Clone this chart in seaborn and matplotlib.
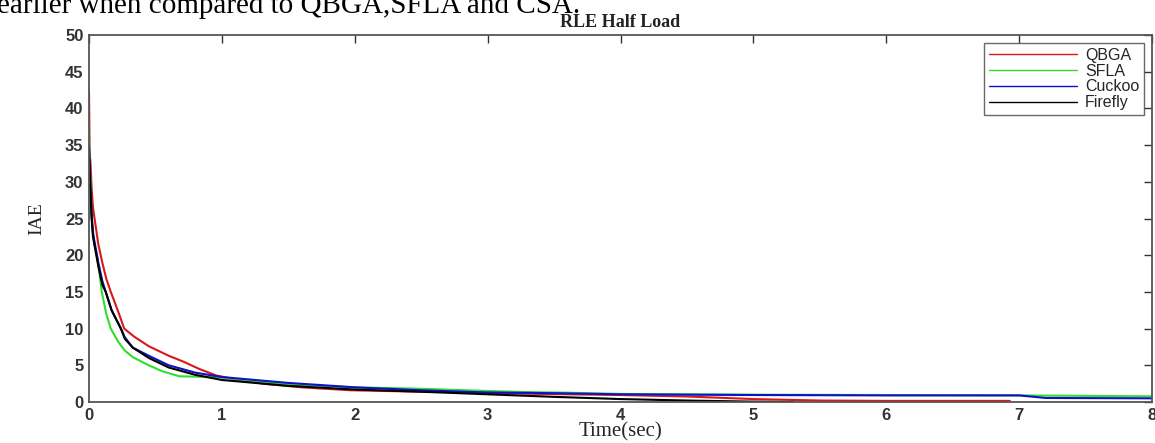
import numpy as np
import pandas as pd
import matplotlib
matplotlib.use("Agg")
import matplotlib.pyplot as plt
import seaborn as sns

# ---- data ----
qbga_t = [0, 0.005, 0.01, 0.02, 0.03, 0.05, 0.07, 0.1, 0.13, 0.164, 0.22, 0.265, 0.34, 0.45, 0.6,
          0.71, 0.83, 0.96, 1.1, 1.31, 1.6, 1.97, 2.5, 2.73, 3.0, 3.4, 4.0, 4.5, 5.0, 5.5, 6.0, 6.5, 6.93]
qbga_v = [42.3, 33.0, 33.0, 29.0, 26.5, 24.0, 21.5, 19.0, 16.8, 15.0, 12.3, 10.0, 8.9, 7.6, 6.3,
          5.5, 4.5, 3.6, 3.1, 2.5, 2.0, 1.6, 1.4, 1.36, 1.25, 1.1, 0.95, 0.75, 0.4, 0.2, 0.15, 0.15, 0.15]

sfla_t = [0, 0.005, 0.01, 0.02, 0.04, 0.06, 0.076, 0.096, 0.13, 0.164, 0.22, 0.27, 0.33, 0.45, 0.55,
          0.68, 0.96, 1.5, 2.0, 2.5, 3.0, 3.3, 3.6, 4.0, 5.0, 6.0, 7.0, 8.0]
sfla_v = [37.2, 30.5, 30.5, 25.0, 21.5, 20.0, 18.0, 15.0, 12.0, 10.0, 8.2, 7.0, 6.1, 5.0, 4.2,
          3.5, 3.4, 2.4, 2.0, 1.8, 1.5, 1.35, 1.27, 1.1, 1.0, 0.95, 0.9, 0.77]

cuckoo_t = [0, 0.01, 0.02, 0.03, 0.05, 0.07, 0.1, 0.126, 0.17, 0.24, 0.27, 0.33, 0.45, 0.6,
            0.8, 1.0, 1.5, 2.0, 2.5, 3.0, 3.5, 4.0, 5.0, 6.0, 7.0, 7.2, 8.0]
cuckoo_v = [35.0, 29.0, 25.5, 23.0, 21.0, 19.0, 16.5, 15.0, 12.5, 10.0, 8.8, 7.4, 6.3, 5.0,
            4.0, 3.4, 2.6, 2.0, 1.6, 1.3, 1.2, 1.05, 0.95, 0.9, 0.9, 0.55, 0.5]

firefly_t = [0, 0.01, 0.02, 0.03, 0.05, 0.07, 0.1, 0.126, 0.17, 0.24, 0.27, 0.33, 0.45, 0.6,
             0.8, 1.0, 1.5, 2.0, 2.5, 3.0, 3.5, 4.0, 4.5, 5.0, 5.3]
firefly_v = [34.5, 29.5, 25.0, 22.5, 20.5, 18.5, 16.0, 15.0, 12.5, 10.0, 8.6, 7.4, 6.0, 4.7,
             3.7, 3.0, 2.2, 1.7, 1.4, 1.05, 0.7, 0.4, 0.2, 0.05, 0.0]

series_names = ["QBGA", "SFLA", "Cuckoo", "Firefly"]
series_colors = ["#d81818", "#30dd30", "#1010cc", "#000000"]
x_ticks = [0, 1, 2, 3, 4, 5, 6, 7, 8]
y_ticks = [0, 5, 10, 15, 20, 25, 30, 35, 40, 45, 50]

frames = []
for name, t, v in zip(series_names,
                      [qbga_t, sfla_t, cuckoo_t, firefly_t],
                      [qbga_v, sfla_v, cuckoo_v, firefly_v]):
    frames.append(pd.DataFrame({"t": t, "v": v, "series": name}))
df = pd.concat(frames, ignore_index=True)

sns.set_style("white")
plt.rcParams["font.family"] = ["Liberation Sans", "DejaVu Sans"]

fig = plt.figure(figsize=(11.55, 4.43), dpi=100)
ax = fig.add_axes([89 / 1155, 1 - 402 / 443, 1063 / 1155, 367 / 443])

sns.lineplot(data=df, x="t", y="v", hue="series", hue_order=series_names,
             palette=series_colors, linewidth=1.5, ax=ax, sort=False,
             estimator=None)

ax.set_xlim(0, 8)
ax.set_ylim(0, 50)
ax.set_xticks(x_ticks)
ax.set_yticks(y_ticks)
ax.tick_params(direction="in", length=6, width=1, top=True, right=True,
               labelsize=12, colors="#333333", pad=4)
for lbl in ax.get_xticklabels() + ax.get_yticklabels():
    lbl.set_color("#333333")
    lbl.set_fontweight("bold")
for s in ax.spines.values():
    s.set_color("#555555")
    s.set_linewidth(1.3)

ax.set_xlabel("Time(sec)", family="Liberation Serif", fontsize=15, labelpad=0)
ax.set_ylabel("IAE", family="Liberation Serif", fontsize=14, labelpad=14)
ax.set_title("RLE Half Load", family="Liberation Serif", fontsize=13,
             fontweight="bold", pad=6, color="#222222")

leg = ax.legend(loc="upper right", fontsize=11.5, frameon=True, fancybox=False,
                edgecolor="#444444", handlelength=5.5, handletextpad=0.5,
                borderpad=0.3, labelspacing=0.05, borderaxespad=0.5)
leg.get_frame().set_linewidth(1.0)
for line in leg.get_lines():
    line.set_linewidth(1.0)

fig.text(-0.003, 1 - 13 / 443, "earlier when compared to QBGA,SFLA and CSA.",
         family="Liberation Serif", fontsize=21, va="baseline", ha="left", color="black")

fig.savefig("out.png", dpi=100)
